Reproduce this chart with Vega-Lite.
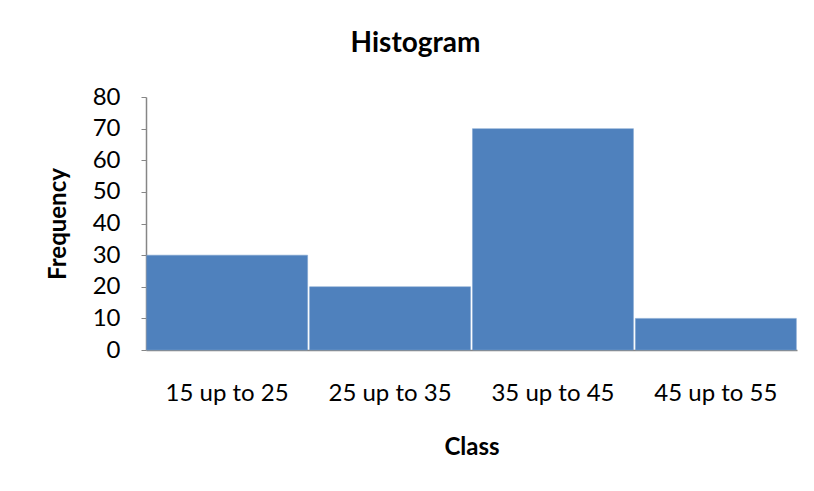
{
  "$schema": "https://vega.github.io/schema/vega-lite/v6.json",
  "width": 651,
  "height": 253,
  "autosize": {"type": "none"},
  "padding": {"left": 146, "top": 97, "right": 17, "bottom": 141},
  "background": "white",
  "title": {
    "text": "Histogram",
    "font": "Lato",
    "fontSize": 28,
    "fontWeight": "bold",
    "color": "black",
    "anchor": "middle",
    "dx": -56,
    "offset": 27
  },
  "data": {
    "values": [
      {"Class": "15 up to 25", "Frequency": 30},
      {"Class": "25 up to 35", "Frequency": 20},
      {"Class": "35 up to 45", "Frequency": 70},
      {"Class": "45 up to 55", "Frequency": 10}
    ]
  },
  "mark": {"type": "bar", "color": "#4F81BD", "stroke": "#7BA0CF", "strokeWidth": 0.5},
  "encoding": {
    "x": {
      "field": "Class",
      "type": "nominal",
      "sort": null,
      "scale": {"paddingInner": 0.012, "paddingOuter": 0.004},
      "axis": {
        "title": "Class",
        "labelAngle": 0,
        "ticks": false,
        "labelPadding": 31,
        "titlePadding": 30,
        "domainColor": "#868686",
        "domainWidth": 1.5
      }
    },
    "y": {
      "field": "Frequency",
      "type": "quantitative",
      "scale": {"domain": [0, 80]},
      "axis": {
        "title": "Frequency",
        "values": [0, 10, 20, 30, 40, 50, 60, 70, 80],
        "grid": false,
        "tickSize": 5,
        "tickColor": "#868686",
        "domainColor": "#868686",
        "domainWidth": 1.5,
        "labelPadding": 21,
        "titlePadding": 22
      }
    }
  },
  "config": {
    "view": {"stroke": null},
    "axis": {
      "labelFont": "Lato",
      "labelFontSize": 24,
      "labelColor": "black",
      "titleFont": "Lato",
      "titleFontSize": 24,
      "titleFontWeight": "bold",
      "titleColor": "black"
    }
  }
}
